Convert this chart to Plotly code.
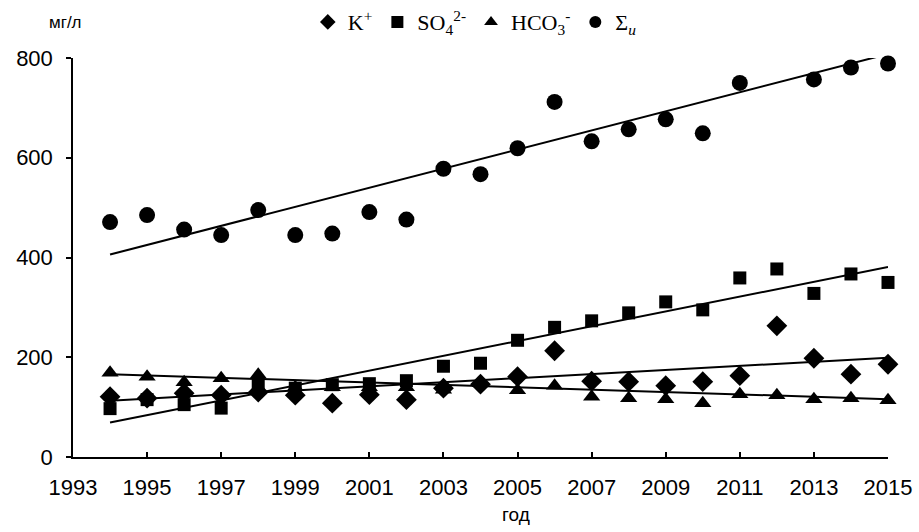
import plotly.graph_objects as go

years = list(range(1994, 2016))

k_vals = [121, 118, 128, 124, 130, 124, 108, 125, 115, 138, 146, 161, 213, 152, 151, 143, 151, 163, 263, 198, 166, 186]
so4_vals = [97, 115, 105, 98, 145, 138, 145, 147, 153, 182, 188, 234, 260, 273, 289, 311, 295, 359, 377, 328, 367, 350]
hco3_vals = [169, 161, 150, 158, 165, 140, 140, 140, 140, 135, 148, 134, 143, 121, 118, 116, 108, 126, 124, 116, 118, 114]
sum_years = [1994, 1995, 1996, 1997, 1998, 1999, 2000, 2001, 2002, 2003, 2004,
             2005, 2006, 2007, 2008, 2009, 2010, 2011, 2013, 2014, 2015]
sum_vals = [471, 485, 456, 445, 495, 445, 448, 491, 476, 578, 567,
            619, 712, 633, 657, 677, 649, 750, 757, 781, 789]

trend_years = [1994, 2015]
k_trend = [113, 199]
so4_trend = [69, 381]
hco3_trend = [166, 116]
sum_trend = [406, 808]

x_ticks = list(range(1993, 2016, 2))
y_ticks = [0, 200, 400, 600, 800]

fig = go.Figure()

for tr in [k_trend, so4_trend, hco3_trend, sum_trend]:
    fig.add_trace(go.Scatter(x=trend_years, y=tr, mode="lines",
                             line=dict(color="black", width=2),
                             showlegend=False, hoverinfo="skip"))

series = [
    ("K<sup>+</sup>", years, k_vals, "diamond", 16),
    ("SO<sub>4</sub><sup>2-</sup>", years, so4_vals, "square", 13),
    ("HCO<sub>3</sub><sup>-</sup>", years, hco3_vals, "triangle-up", 15),
    ("Σ<sub><i>и</i></sub>", sum_years, sum_vals, "circle", 16),
]
for name, xs, ys, sym, sz in series:
    fig.add_trace(go.Scatter(x=xs, y=ys, mode="markers", name=name,
                             marker=dict(symbol=sym, size=sz, color="black"),
                             cliponaxis=False))

fig.update_layout(
    width=919, height=532,
    margin=dict(l=73, r=31, t=58, b=75, autoexpand=False),
    paper_bgcolor="white", plot_bgcolor="white",
    font=dict(family="Liberation Sans, Arial", color="black"),
    legend=dict(orientation="h", x=0.493, xanchor="center", y=1.09, yanchor="middle",
                font=dict(family="Liberation Serif, Times New Roman", size=22, color="black"),
                itemsizing="constant", itemwidth=30, tracegroupgap=0,
                bgcolor="rgba(0,0,0,0)"),
    xaxis=dict(range=[1993, 2015], tickvals=x_ticks, ticktext=[str(v) for v in x_ticks],
               ticks="inside", ticklen=5, tickwidth=1.5, tickcolor="black",
               showline=True, linecolor="black", linewidth=1.5,
               showgrid=False, zeroline=False, ticklabelstandoff=10,
               tickfont=dict(size=22, family="Liberation Sans, Arial")),
    yaxis=dict(range=[0, 800], tickvals=y_ticks,
               ticks="outside", ticklen=5, tickwidth=1.5, tickcolor="black",
               showline=True, linecolor="black", linewidth=1.5,
               showgrid=False, zeroline=False, ticklabelstandoff=9,
               tickfont=dict(size=22, family="Liberation Sans, Arial")),
    annotations=[
        dict(text="мг/л", xref="paper", yref="paper", x=-0.0086, y=1.09,
             xanchor="center", yanchor="middle", showarrow=False,
             font=dict(size=17, family="Liberation Sans, Arial")),
        dict(text="год", xref="paper", yref="paper", x=0.5436, y=-0.145,
             xanchor="center", yanchor="middle", showarrow=False,
             font=dict(size=19, family="Liberation Sans, Arial")),
    ],
)

fig.write_html("out.html")
